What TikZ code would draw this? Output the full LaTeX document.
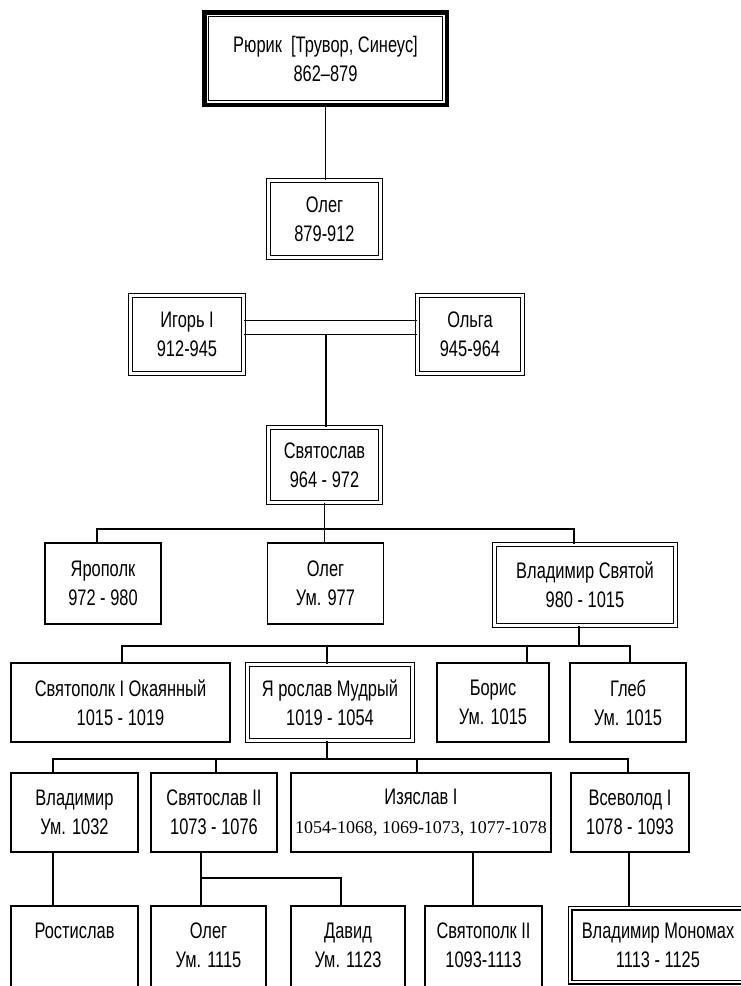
\documentclass[tikz,border=0pt]{standalone}
\usepackage{fontspec}
\setmainfont{Liberation Sans}[FakeStretch=0.73]
\newfontfamily\numserif{Liberation Serif}
\begin{document}
\begin{tikzpicture}[x=1pt,y=-1pt,
  box/.style={draw, line width=1.8pt, align=center, inner sep=0pt, font=\fontsize{22.5}{29}\selectfont},
  dbox/.style={box, line width=1.4pt, double=white, double distance=2.2pt},
  tbox/.style={align=center, inner sep=0pt, font=\fontsize{22.5}{29}\selectfont},
  conn/.style={line width=1.7pt},
  openbox/.style={line width=1.8pt}]
\fill[white] (0,0) rectangle (741,986);
\useasboundingbox (0,0) rectangle (741,986);

% nodes
\node[box, line width=4.5pt, minimum width=242.5pt, minimum height=92.5pt] (rurik) at (325.5,58.5) {Рюрик\ \ [Трувор, Синеус]\\862–879};
\draw[line width=1.3pt] ([shift={(6.5pt,-6.5pt)}]rurik.north west) rectangle ([shift={(-6.5pt,6.5pt)}]rurik.south east);

\node[dbox, minimum width=112pt, minimum height=77pt] (oleg1) at (324.5,219) {Олег\\879-912};
\node[dbox, minimum width=113pt, minimum height=78pt] (igor) at (187,334.5) {Игорь I\\912-945};
\node[dbox, minimum width=105pt, minimum height=78pt] (olga) at (470,334.5) {Ольга\\945-964};
\node[dbox, minimum width=112pt, minimum height=75pt] (svy) at (324.5,465) {Святослав\\964 - 972};

\node[box, minimum width=116pt, minimum height=81pt] (yarop) at (103,583.5) {Ярополк\\972 - 980};
\node[box, minimum width=116pt, minimum height=81pt] (oleg2) at (325.5,583.5) {Олег\\Ум. 977};
\node[dbox, minimum width=181pt, minimum height=81pt] (vlad) at (585,585) {Владимир Святой\\980 - 1015};

\node[box, minimum width=219pt, minimum height=79pt] (svp1) at (120.5,702.5) {Святополк I Окаянный\\1015 - 1019};
\node[dbox, minimum width=165pt, minimum height=76pt] (yar) at (330,702.5) {Я рослав Мудрый\\1019 - 1054};
\node[box, minimum width=112pt, minimum height=79pt] (boris) at (493,702.5) {Борис\\Ум. 1015};
\node[box, minimum width=116pt, minimum height=79pt] (gleb) at (628,702.5) {Глеб\\Ум. 1015};

\node[box, minimum width=127pt, minimum height=79pt] (vl2) at (74.5,812.5) {Владимир\\Ум. 1032};
\node[box, minimum width=126pt, minimum height=79pt] (svy2) at (214,812.5) {Святослав II\\1073 - 1076};
\node[box, minimum width=260pt, minimum height=79pt] (izy) at (421,812.5) {Изяслав I\\{\numserif\fontsize{18}{29}\selectfont 1054-1068, 1069-1073, 1077-1078}};
\node[box, minimum width=118pt, minimum height=79pt] (vsev) at (630,812.5) {Всеволод I\\1078 - 1093};

\node[tbox, minimum width=127pt, minimum height=78pt] (rost) at (74.5,945) {Ростислав\\\phantom{Ум.}};
\node[tbox, minimum width=115pt, minimum height=78pt] (oleg3) at (208.5,945) {Олег\\Ум. 1115};
\node[tbox, minimum width=114pt, minimum height=78pt] (david) at (348,945) {Давид\\Ум. 1123};
\node[tbox, minimum width=117pt, minimum height=78pt] (svp2) at (483.5,945) {Святополк II\\1093-1113};
\node[dbox, minimum width=176pt, minimum height=74pt] (mono) at (658,945) {Владимир Мономах\\1113 - 1125};

\coordinate (bot) at (0,990);
\foreach \n in {rost,oleg3,david,svp2}{
  \draw[openbox] (\n.north west |- bot) -- (\n.north west) -- (\n.north east) -- (\n.north east |- bot);
}

% connectors
\draw[conn] (rurik.south) -- (rurik.south |- oleg1.north);
\draw[conn] ([yshift=14pt]igor.east) -- ([yshift=14pt]olga.west);
\draw[conn] (igor.east) -- (olga.west);
\coordinate (mv) at (326,334.5);
\draw[conn] (mv) -- (mv |- svy.north);

\coordinate (b1l) at (97,529);
\coordinate (b1r) at (574,529);
\draw[conn] (yarop.north -| b1l) -- (b1l) -- (b1r) -- (vlad.north -| b1r);
\draw[conn] (svy.south) -- (svy.south |- oleg2.north);

\coordinate (v1) at (579,646);
\draw[conn] (vlad.south -| v1) -- (v1);
\coordinate (b2l) at (122,646);
\coordinate (b2r) at (630,646);
\coordinate (b2b) at (527,646);
\coordinate (b2y) at (327,646);
\draw[conn] (svp1.north -| b2l) -- (b2l) -- (b2r) -- (gleb.north -| b2r);
\draw[conn] (b2b) -- (boris.north -| b2b);
\draw[conn] (b2y) -- (yar.north -| b2y);

\coordinate (b3y) at (327,759);
\draw[conn] (yar.south -| b3y) -- (b3y);
\coordinate (b3l) at (53,759);
\coordinate (b3r) at (628,759);
\coordinate (b3s) at (216,759);
\coordinate (b3i) at (417,759);
\draw[conn] (vl2.north -| b3l) -- (b3l) -- (b3r) -- (vsev.north -| b3r);
\draw[conn] (b3s) -- (svy2.north -| b3s);
\draw[conn] (b3i) -- (izy.north -| b3i);

\draw[conn] (vl2.south -| b3l) -- (rost.north -| b3l);
\coordinate (br) at (201,878);
\coordinate (brr) at (341,878);
\draw[conn] (svy2.south -| br) -- (oleg3.north -| br);
\draw[conn] (br) -- (brr) -- (david.north -| brr);
\coordinate (iz) at (473,880);
\draw[conn] (izy.south -| iz) -- (svp2.north -| iz);
\coordinate (vs) at (629,880);
\draw[conn] (vsev.south -| vs) -- (mono.north -| vs);
\end{tikzpicture}
\end{document}
